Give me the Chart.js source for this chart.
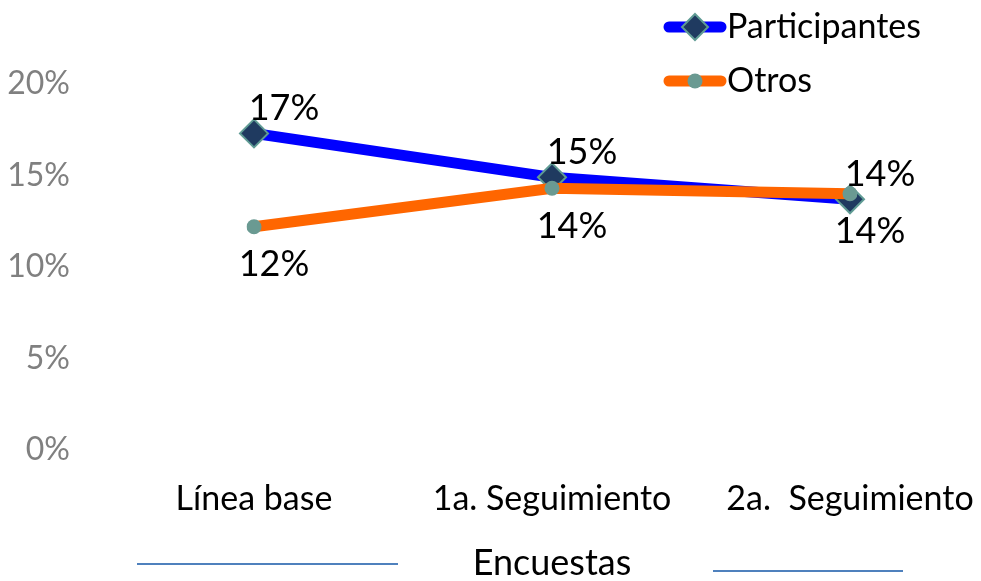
<!DOCTYPE html>
<html>
<head>
<meta charset="utf-8">
<script src="https://cdn.jsdelivr.net/npm/chart.js@4"></script>
<style>
  html, body { margin: 0; padding: 0; background: #ffffff; }
  #wrap { width: 981px; height: 581px; position: relative; }
</style>
</head>
<body>
<div id="wrap"><canvas id="c" width="981" height="581"></canvas></div>
<script>
const categories = ['Línea base', '1a. Seguimiento', '2a.  Seguimiento'];
const seriesNames = ['Participantes', 'Otros'];
const participantes = [17.3, 14.9, 13.7];
const otros = [12.2, 14.3, 14.0];
const yTicks = [0, 5, 10, 15, 20];
const xTitle = 'Encuestas';

const FONT = 'Lato, "Liberation Sans", sans-serif';

const dataLabels = {
  id: 'dataLabels',
  afterDatasetsDraw(chart) {
    const ctx = chart.ctx;
    ctx.save();
    ctx.font = '36px ' + FONT;
    ctx.fillStyle = '#000000';
    ctx.textAlign = 'center';
    ctx.textBaseline = 'middle';
    chart.data.datasets.forEach((ds, i) => {
      const meta = chart.getDatasetMeta(i);
      const off = ds.labelOffset;
      meta.data.forEach((pt, j) => {
        ctx.fillText(Math.round(ds.data[j]) + '%', pt.x + off[0], pt.y + off[1]);
      });
    });
    ctx.restore();
  }
};

const customLegend = {
  id: 'customLegend',
  afterDraw(chart) {
    const ctx = chart.ctx;
    ctx.save();
    const x0 = 664, x1 = 726, rows = [27, 81];
    chart.data.datasets.forEach((ds, i) => {
      const y = rows[i];
      ctx.lineCap = 'round';
      ctx.strokeStyle = ds.borderColor;
      ctx.lineWidth = 11;
      ctx.beginPath(); ctx.moveTo(x0 + 5, y); ctx.lineTo(x1 - 5, y); ctx.stroke();
      const cx = (x0 + x1) / 2;
      ctx.fillStyle = ds.pointBackgroundColor;
      ctx.strokeStyle = ds.pointBorderColor;
      ctx.lineWidth = ds.pointBorderWidth;
      ctx.beginPath();
      if (ds.pointStyle === 'rectRot') {
        const r = 13;
        ctx.moveTo(cx, y - r); ctx.lineTo(cx + r, y); ctx.lineTo(cx, y + r); ctx.lineTo(cx - r, y); ctx.closePath();
        ctx.fill(); ctx.stroke();
      } else {
        ctx.arc(cx, y, 7.5, 0, Math.PI * 2);
        ctx.fill();
      }
      ctx.fillStyle = '#000000';
      ctx.font = '34px ' + FONT;
      ctx.textAlign = 'left';
      ctx.textBaseline = 'middle';
      ctx.fillText(ds.label, x1 + 1, y);
    });
    // decorative rules beside the axis title
    ctx.strokeStyle = '#4f81bd';
    ctx.lineWidth = 2;
    ctx.lineCap = 'butt';
    ctx.beginPath(); ctx.moveTo(137, 564); ctx.lineTo(398, 564); ctx.stroke();
    ctx.beginPath(); ctx.moveTo(713, 571); ctx.lineTo(903, 571); ctx.stroke();
    ctx.restore();
  }
};

new Chart(document.getElementById('c'), {
  type: 'line',
  data: {
    labels: categories,
    datasets: [
      {
        label: seriesNames[0],
        data: participantes,
        borderColor: '#0000ff',
        borderWidth: 11,
        pointStyle: 'rectRot',
        pointRadius: 14,
        pointHoverRadius: 14,
        pointBackgroundColor: '#1f3a60',
        pointBorderColor: '#5f9b94',
        pointBorderWidth: 2,
        order: 1,
        labelOffset: [30, -25]
      },
      {
        label: seriesNames[1],
        data: otros,
        borderColor: '#ff6600',
        borderWidth: 11,
        pointStyle: 'circle',
        pointRadius: 7.5,
        pointHoverRadius: 7.5,
        pointBackgroundColor: '#6a9a92',
        pointBorderColor: '#6a9a92',
        pointBorderWidth: 0,
        order: 0,
        labelOffset: [20, 38]
      }
    ]
  },
  options: {
    responsive: false,
    animation: false,
    events: [],
    layout: { padding: { top: 84, right: 131, left: 0, bottom: 0 } },
    plugins: {
      legend: { display: false },
      tooltip: { enabled: false }
    },
    scales: {
      x: {
        offset: false,
        afterFit(scale) { scale.height = 131; scale.paddingLeft = 0; scale.paddingRight = 0; },
        grid: { display: false, drawTicks: false },
        border: { display: false },
        ticks: {
          padding: 32,
          color: '#000000',
          font: { family: FONT, size: 34, lineHeight: 1 },
          maxRotation: 0,
          autoSkip: false
        },
        title: {
          display: true,
          text: xTitle,
          color: '#000000',
          font: { family: FONT, size: 36, lineHeight: 1 },
          padding: { top: 30, bottom: 0 }
        }
      },
      y: {
        min: 0,
        max: 20,
        afterFit(scale) { scale.width = 254; scale.paddingTop = 0; scale.paddingBottom = 0; },
        afterBuildTicks(scale) { scale.ticks = yTicks.map(v => ({ value: v })); },
        grid: { display: false, drawTicks: false },
        border: { display: false },
        ticks: {
          padding: 184,
          color: '#808080',
          font: { family: FONT, size: 32, lineHeight: 1 },
          callback: v => v + '%'
        }
      }
    }
  },
  plugins: [dataLabels, customLegend]
});
</script>
</body>
</html>
